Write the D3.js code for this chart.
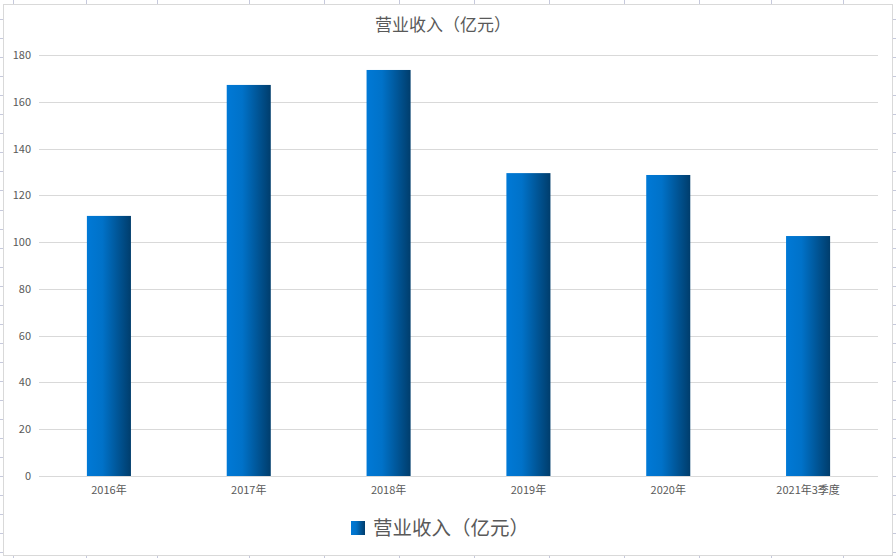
<!DOCTYPE html>
<html><head><meta charset="utf-8">
<script src="https://cdn.jsdelivr.net/npm/d3@7"></script>
<style>
html,body{margin:0;padding:0;background:#fff;}
svg{display:block;}
</style></head>
<body>
<svg id="c" width="896" height="558"></svg>
<script>
const categories = ["2016年","2017年","2018年","2019年","2020年","2021年3季度"];
const revenue = [111.2, 167.2, 173.6, 129.5, 128.7, 102.6];
const yTicks = [0,20,40,60,80,100,120,140,160,180];
const seriesName = "营业收入（亿元）";
const sheetCols = [13,86,157,249,324,399,474,549,624,699,771,843];

(function(){
const W = 896, H = 558;
const svg = d3.select("#c");
const font = "'Noto Sans CJK SC','Noto Sans',sans-serif";

// spreadsheet background
const bg = svg.append("g");
bg.append("rect").attr("width",W).attr("height",H).attr("fill","#fff");
sheetCols.forEach(x=>{
  bg.append("line").attr("x1",x+0.5).attr("x2",x+0.5).attr("y1",0).attr("y2",H).attr("stroke","#c6c9dc").attr("stroke-width",1);
});
for(let yy=19; yy<H; yy+=19.05){
  bg.append("line").attr("x1",0).attr("x2",W).attr("y1",Math.round(yy)+0.5).attr("y2",Math.round(yy)+0.5).attr("stroke","#c6c9dc").attr("stroke-width",1);
}

// chart area
svg.append("rect").attr("x",3.5).attr("y",4.5).attr("width",889).attr("height",551)
  .attr("fill","#fff").attr("stroke","#d9d9d9").attr("stroke-width",1);

const defs = svg.append("defs");
const grad = defs.append("linearGradient").attr("id","bg").attr("x1","0%").attr("x2","100%").attr("y1","0%").attr("y2","0%");
grad.append("stop").attr("offset","0%").attr("stop-color","#0079d6");
grad.append("stop").attr("offset","35%").attr("stop-color","#0072c9");
grad.append("stop").attr("offset","100%").attr("stop-color","#003d6c");

const pLeft = 39, pRight = 878, pTop = 55, pBottom = 476;
const x = d3.scaleBand().domain(categories).range([pLeft,pRight]).padding(0);
const y = d3.scaleLinear().domain([0,180]).range([pBottom,pTop]);

// gridlines
svg.append("g").selectAll("line").data(yTicks.filter(t=>t>0)).join("line")
  .attr("x1",pLeft).attr("x2",pRight)
  .attr("y1",d=>Math.round(y(d))+0.5).attr("y2",d=>Math.round(y(d))+0.5)
  .attr("stroke","#d9d9d9").attr("stroke-width",1);

// y axis labels
const yAxis = d3.axisLeft(y).tickValues(yTicks).tickSize(0).tickPadding(8);
const ya = svg.append("g").attr("transform",`translate(${pLeft},0)`).call(yAxis);
ya.select(".domain").remove();
ya.selectAll("text").attr("font-family",font).attr("font-size",11).attr("fill","#595959");

// bars
const bw = x.bandwidth()*0.315;
svg.append("g").selectAll("rect").data(revenue).join("rect")
  .attr("x",(d,i)=>x(categories[i])+x.bandwidth()/2-bw/2)
  .attr("width",bw)
  .attr("y",d=>y(d))
  .attr("height",d=>pBottom-y(d))
  .attr("fill","url(#bg)");

// x axis
const xAxis = d3.axisBottom(x).tickSize(0).tickPadding(10);
const xa = svg.append("g").attr("transform",`translate(0,${pBottom})`).call(xAxis);
xa.select(".domain").attr("stroke","#d9d9d9").attr("d",`M${pLeft},0.5H${pRight}`);
xa.selectAll("text").attr("font-family",font).attr("font-size",11).attr("fill","#595959");

// title
svg.append("text").attr("x",443).attr("y",31).attr("text-anchor","middle")
  .attr("font-family",font).attr("font-size",17).attr("fill","#595959").text(seriesName);

// legend
svg.append("rect").attr("x",351).attr("y",521).attr("width",14).attr("height",14).attr("fill","url(#bg)");
svg.append("text").attr("x",373).attr("y",535)
  .attr("font-family",font).attr("font-size",19.5).attr("fill","#595959").text(seriesName);
})();
</script>
</body></html>
